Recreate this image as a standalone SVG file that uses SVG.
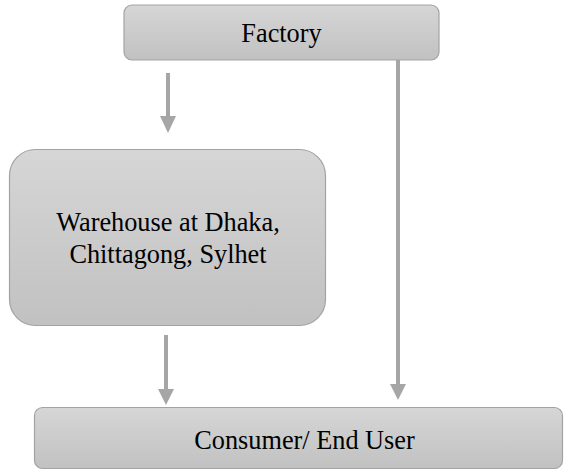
<svg xmlns="http://www.w3.org/2000/svg" width="565" height="470" viewBox="0 0 565 470">
<defs>
<linearGradient id="g" x1="0" y1="0" x2="0" y2="1">
<stop offset="0" stop-color="#d6d6d6"/>
<stop offset="1" stop-color="#c1c1c1"/>
</linearGradient>
<style>
.box{fill:url(#g);stroke:#a3a3a3;stroke-width:1.2}
.lbl{font-family:'Liberation Serif','Times New Roman',serif;font-size:26.3px;fill:#000;text-anchor:middle}
.ln{stroke:#a6a6a6;stroke-width:4;fill:none}
.hd{fill:#a6a6a6}
</style>
</defs>
<rect width="565" height="470" fill="#fff"/>
<g id="connectors">
<line class="ln" x1="168" y1="73" x2="168" y2="118"/>
<polygon class="hd" points="160,116 176,116 168,133"/>
<line class="ln" x1="166" y1="335" x2="166" y2="391"/>
<polygon class="hd" points="158,389 174,389 166,405"/>
<line class="ln" x1="398" y1="60" x2="398" y2="386"/>
<polygon class="hd" points="390,384 406,384 398,400"/>
</g>
<g id="factory">
<rect class="box" x="124" y="5" width="315" height="55" rx="8"/>
<text class="lbl" x="281.5" y="41.5">Factory</text>
</g>
<g id="warehouse">
<rect class="box" x="9.5" y="149.5" width="316" height="176" rx="26"/>
<text class="lbl" x="168" y="231">Warehouse at Dhaka,</text>
<text class="lbl" x="168" y="263">Chittagong, Sylhet</text>
</g>
<g id="consumer">
<rect class="box" x="34.5" y="407.5" width="528" height="61" rx="8"/>
<text class="lbl" x="304.5" y="449">Consumer/ End User</text>
</g>
</svg>
